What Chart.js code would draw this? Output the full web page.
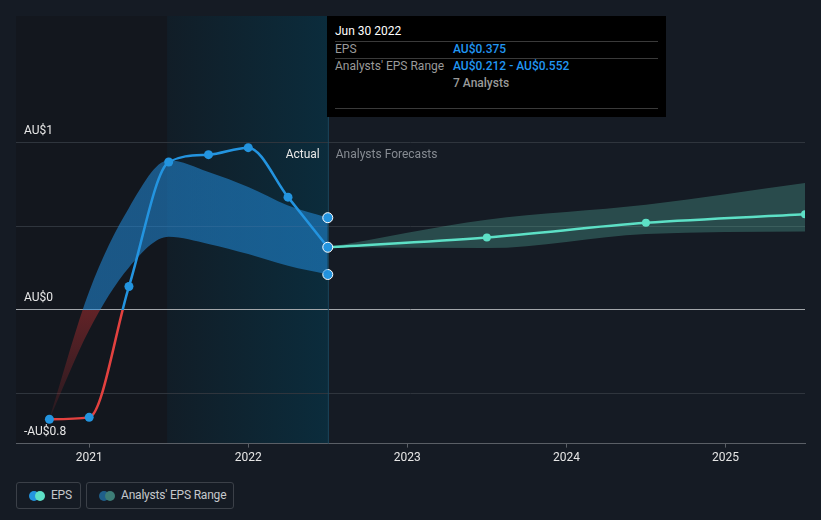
<!DOCTYPE html>
<html lang="en">
<head>
<meta charset="UTF-8">
<title>EPS vs Analysts' Forecasts</title>
<script src="https://cdn.jsdelivr.net/npm/chart.js"></script>
<style>
  body { margin: 0; background: #151b24; font-family: Roboto, "Noto Sans", sans-serif; }
  #wrap { position: relative; width: 821px; height: 520px; overflow: hidden; }
  #chartBox { position: absolute; left: 0; top: 0; width: 821px; height: 470px; }
  .tip { position: absolute; left: 327px; top: 16px; width: 339px; height: 101px; background: #000; color: #fff; font-size: 12px; }
  .tip .row { position: absolute; left: 8px; right: 8px; }
  .tip .sep { position: absolute; left: 8px; right: 8px; height: 1px; background: #3a3a3a; }
  .tip .lbl { color: #9a9a9a; position: absolute; left: 0; }
  .tip .val { color: #2196f3; position: absolute; left: 118px; font-weight: 500; }
  .legend { position: absolute; top: 482px; height: 27px; border: 1px solid #3b4048; border-radius: 3px; color: #c5c8cc; font-size: 12px; line-height: 25px; box-sizing: border-box; letter-spacing: -0.2px; }
  .dot { position: absolute; top: 8px; width: 10px; height: 10px; border-radius: 50%; }
</style>
</head>
<body>
<div id="wrap">
  <div id="chartBox"><canvas id="chartCanvas"></canvas></div>

  <div class="tip">
    <div class="row" style="top:8px;">Jun 30 2022</div>
    <div class="sep" style="top:25px;"></div>
    <div class="row" style="top:26px;"><span class="lbl">EPS</span><span class="val">AU$0.375</span></div>
    <div class="sep" style="top:42px;"></div>
    <div class="row" style="top:43px;"><span class="lbl">Analysts' EPS Range</span><span class="val">AU$0.212 - AU$0.552</span></div>
    <div class="row" style="top:60px;"><span class="val" style="color:#9a9a9a;">7 Analysts</span></div>
    <div class="sep" style="top:92px;"></div>
  </div>

  <div class="legend" style="left:16px; width:65px;">
    <span class="dot" style="left:12px; background:#2394df;"></span>
    <span class="dot" style="left:18px; background:#5de0c6;"></span>
    <span style="position:absolute; left:34px;">EPS</span>
  </div>
  <div class="legend" style="left:86px; width:148px;">
    <span class="dot" style="left:12px; background:#1f5f8a;"></span>
    <span class="dot" style="left:18px; background:#3d7d76;"></span>
    <span style="position:absolute; left:34px;">Analysts' EPS Range</span>
  </div>
</div>

<script>
  // actual EPS (decimal years on the x axis)
  const actualYears = [2020.75, 2021.0, 2021.25, 2021.5, 2021.75, 2022.0, 2022.25, 2022.5];
  const actualEps   = [-0.654, -0.643, 0.14, 0.885, 0.929, 0.971, 0.675, 0.375];
  const pastHigh    = [-0.654, 0.11, 0.61, 0.895, 0.825, 0.735, 0.625, 0.552];
  const pastLow     = [-0.654, -0.12, 0.254, 0.438, 0.395, 0.334, 0.264, 0.212];

  // analysts forecasts
  const forecastYears = [2022.5, 2023.5, 2024.5, 2025.5];
  const forecastEps   = [0.375, 0.434, 0.521, 0.572];
  const forecastHigh  = [0.375, 0.54, 0.63, 0.76];
  const forecastLow   = [0.375, 0.37, 0.455, 0.47];

  const yearTicks = [2021, 2022, 2023, 2024, 2025];
  const gridValues = [-0.8, -0.5, 0, 0.5, 1];
  const yLabelValues = [1, 0, -0.8];
  const yLabelTexts = ['AU$1', 'AU$0', '-AU$0.8'];

  const pastStart = 2021.49;
  const nowYear = 2022.5;

  const pts = (xs, ys) => xs.map((x, i) => ({ x: x, y: ys[i] }));

  // vertical gradient: colour above zero, other colour below zero
  function splitGradient(chart, above, belowTop, belowBottom) {
    const area = chart.chartArea;
    if (!area) return above;
    const y = chart.scales.y;
    const z = y.getPixelForValue(0);
    const g = chart.ctx.createLinearGradient(0, area.top, 0, area.bottom);
    const f = Math.min(1, Math.max(0, (z - area.top) / (area.bottom - area.top)));
    g.addColorStop(0, above);
    g.addColorStop(f, above);
    g.addColorStop(f, belowTop);
    g.addColorStop(1, belowBottom);
    return g;
  }

  const backdrop = {
    id: 'backdrop',
    beforeDraw(chart) {
      const { ctx, chartArea: a, scales } = chart;
      const x0 = scales.x.getPixelForValue(pastStart);
      const x1 = scales.x.getPixelForValue(nowYear);
      ctx.save();
      ctx.fillStyle = '#13171e';
      ctx.fillRect(a.left, a.top, x0 - a.left, a.bottom - a.top);
      const g = ctx.createLinearGradient(x0, 0, x1, 0);
      g.addColorStop(0, '#111d27');
      g.addColorStop(1, '#0b2c3c');
      ctx.fillStyle = g;
      ctx.fillRect(x0, a.top, x1 - x0, a.bottom - a.top);
      ctx.restore();
    },
    beforeDatasetsDraw(chart) {
      const { ctx, chartArea: a, scales } = chart;
      const x1 = scales.x.getPixelForValue(nowYear);
      ctx.save();
      ctx.strokeStyle = '#1a4c64';
      ctx.lineWidth = 1;
      ctx.beginPath();
      ctx.moveTo(x1 + 0.5, a.top);
      ctx.lineTo(x1 + 0.5, a.bottom);
      ctx.stroke();

      ctx.font = '12px Roboto, sans-serif';
      ctx.textBaseline = 'middle';
      const ty = scales.y.getPixelForValue(1) + 12;
      ctx.fillStyle = '#e8e8e8';
      ctx.textAlign = 'right';
      ctx.fillText('Actual', x1 - 8, ty);
      ctx.fillStyle = '#868b92';
      ctx.textAlign = 'left';
      ctx.fillText('Analysts Forecasts', x1 + 8, ty);

      ctx.fillStyle = '#e8e8e8';
      yLabelValues.forEach((v, i) => {
        ctx.fillText(yLabelTexts[i], 24, scales.y.getPixelForValue(v) - 12);
      });
      ctx.restore();
    }
  };

  const chart = new Chart(document.getElementById('chartCanvas'), {
    type: 'line',
    data: {
      datasets: [
        {
          label: 'EPS',
          data: pts(actualYears, actualEps),
          borderColor: c => splitGradient(c.chart, '#2394e0', '#e3413f', '#e3413f'),
          borderWidth: 2.5,
          cubicInterpolationMode: 'monotone',
          pointRadius: actualYears.map((v, i) => i === actualYears.length - 1 ? 5 : 4.5),
          pointBackgroundColor: '#2394df',
          pointBorderColor: actualYears.map((v, i) => i === actualYears.length - 1 ? '#ffffff' : '#2394df'),
          pointBorderWidth: actualYears.map((v, i) => i === actualYears.length - 1 ? 1 : 0),
          fill: false
        },
        {
          label: 'Forecast',
          data: pts(forecastYears, forecastEps),
          borderColor: '#5de0c6',
          borderWidth: 2.5,
          cubicInterpolationMode: 'monotone',
          pointRadius: forecastYears.map((v, i) => i === 0 ? 0 : 4),
          pointBackgroundColor: '#5de0c6',
          pointBorderWidth: 0,
          fill: false
        },
        {
          label: 'Past high',
          data: pts(actualYears, pastHigh),
          borderWidth: 0,
          borderColor: 'transparent',
          cubicInterpolationMode: 'monotone',
          pointRadius: actualYears.map((v, i) => i === actualYears.length - 1 ? 5 : 0),
          pointBackgroundColor: '#2394df',
          pointBorderColor: '#ffffff',
          pointBorderWidth: 1,
          backgroundColor: c => splitGradient(c.chart, 'rgba(33,140,220,0.55)', 'rgba(205,50,50,0.42)', 'rgba(205,50,50,0.03)'),
          fill: { target: 3 }
        },
        {
          label: 'Past low',
          data: pts(actualYears, pastLow),
          borderWidth: 0,
          borderColor: 'transparent',
          cubicInterpolationMode: 'monotone',
          pointRadius: actualYears.map((v, i) => i === actualYears.length - 1 ? 5 : 0),
          pointBackgroundColor: '#2394df',
          pointBorderColor: '#ffffff',
          pointBorderWidth: 1,
          fill: false
        },
        {
          label: 'Forecast high',
          data: pts(forecastYears, forecastHigh),
          borderWidth: 0,
          borderColor: 'transparent',
          cubicInterpolationMode: 'monotone',
          pointRadius: 0,
          backgroundColor: 'rgba(90,190,170,0.3)',
          fill: { target: 5 }
        },
        {
          label: 'Forecast low',
          data: pts(forecastYears, forecastLow),
          borderWidth: 0,
          borderColor: 'transparent',
          cubicInterpolationMode: 'monotone',
          pointRadius: 0,
          fill: false
        }
      ]
    },
    options: {
      responsive: true,
      maintainAspectRatio: false,
      animation: false,
      events: [],
      layout: { padding: { left: 16, right: 16, top: 16, bottom: 2 } },
      plugins: { legend: { display: false }, tooltip: { enabled: false } },
      scales: {
        x: {
          type: 'linear',
          min: 2020.54,
          max: 2025.5,
          afterBuildTicks: s => { s.ticks = yearTicks.map(v => ({ value: v })); },
          ticks: {
            color: '#e6e6e6',
            font: { family: 'Roboto', size: 12 },
            padding: 3,
            callback: v => String(v),
            maxRotation: 0
          },
          grid: { drawOnChartArea: false, drawTicks: true, tickLength: 4, color: '#5a5f66' },
          border: { color: '#5a5f66', width: 1 }
        },
        y: {
          type: 'linear',
          min: -0.8,
          max: 1.759,
          afterBuildTicks: s => { s.ticks = gridValues.map(v => ({ value: v })); },
          ticks: { display: false },
          grid: {
            drawTicks: false,
            color: c => c.tick.value === 0 ? '#a3a7ab' : (c.tick.value === -0.8 ? 'transparent' : '#2f353d'),
            lineWidth: 1
          },
          border: { display: false }
        }
      }
    },
    plugins: [backdrop]
  });
</script>
</body>
</html>
